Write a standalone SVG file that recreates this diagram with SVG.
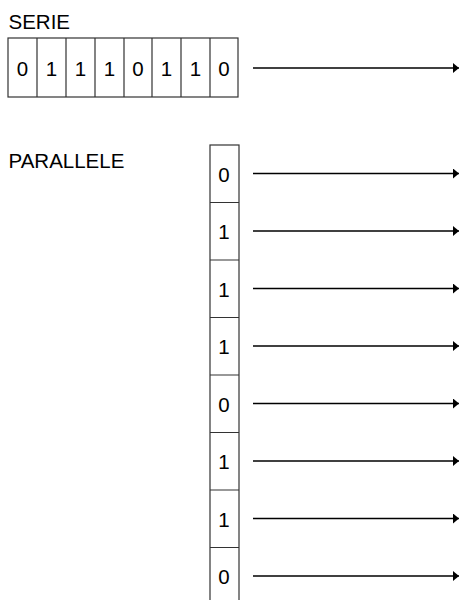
<svg xmlns="http://www.w3.org/2000/svg" width="459" height="600" viewBox="0 0 459 600">
<style>
text{font-family:"Liberation Sans",Arial,sans-serif;font-size:20.5px;fill:#000}
.c{text-anchor:middle}
.box{fill:#fff;stroke:#333;stroke-width:1.2}
.ln{stroke:#000;stroke-width:1.3;fill:none;marker-end:url(#ah)}
</style>
<defs>
<marker id="ah" markerWidth="6" markerHeight="10" refX="6" refY="5" orient="auto" markerUnits="userSpaceOnUse">
<path d="M0,0 L6,5 L0,10 Z" fill="#000"/>
</marker>
</defs>
<g id="serie">
<text x="8.5" y="28.5">SERIE</text>
<rect class="box" x="8" y="38" width="230" height="59"/>
<path d="M37,38V97M66,38V97M95,38V97M124,38V97M152,38V97M181,38V97M210,38V97" stroke="#333" stroke-width="1.2"/>
<text class="c" x="22.5" y="75.5">0</text>
<text class="c" x="51.5" y="75.5">1</text>
<text class="c" x="80.5" y="75.5">1</text>
<text class="c" x="109.5" y="75.5">1</text>
<text class="c" x="138" y="75.5">0</text>
<text class="c" x="166.5" y="75.5">1</text>
<text class="c" x="195.5" y="75.5">1</text>
<text class="c" x="224" y="75.5">0</text>
</g>
<g id="parallele">
<text x="8.5" y="168.3">PARALLELE</text>
<rect class="box" x="210" y="145" width="29" height="460"/>
<path d="M210,202.5H239M210,260H239M210,317.5H239M210,375H239M210,432.5H239M210,490H239M210,547.5H239" stroke="#333" stroke-width="1.2"/>
<text class="c" x="224" y="181.5">0</text>
<text class="c" x="224" y="239">1</text>
<text class="c" x="224" y="296.5">1</text>
<text class="c" x="224" y="354">1</text>
<text class="c" x="224" y="411.5">0</text>
<text class="c" x="224" y="469">1</text>
<text class="c" x="224" y="526.5">1</text>
<text class="c" x="224" y="584">0</text>
</g>
<g id="connectors">
<line class="ln" x1="253" y1="68" x2="459" y2="68"/>
<line class="ln" x1="253" y1="173.5" x2="459" y2="173.5"/>
<line class="ln" x1="253" y1="231" x2="459" y2="231"/>
<line class="ln" x1="253" y1="288.5" x2="459" y2="288.5"/>
<line class="ln" x1="253" y1="346" x2="459" y2="346"/>
<line class="ln" x1="253" y1="403.5" x2="459" y2="403.5"/>
<line class="ln" x1="253" y1="461" x2="459" y2="461"/>
<line class="ln" x1="253" y1="518.5" x2="459" y2="518.5"/>
<line class="ln" x1="253" y1="576" x2="459" y2="576"/>
</g>
</svg>
